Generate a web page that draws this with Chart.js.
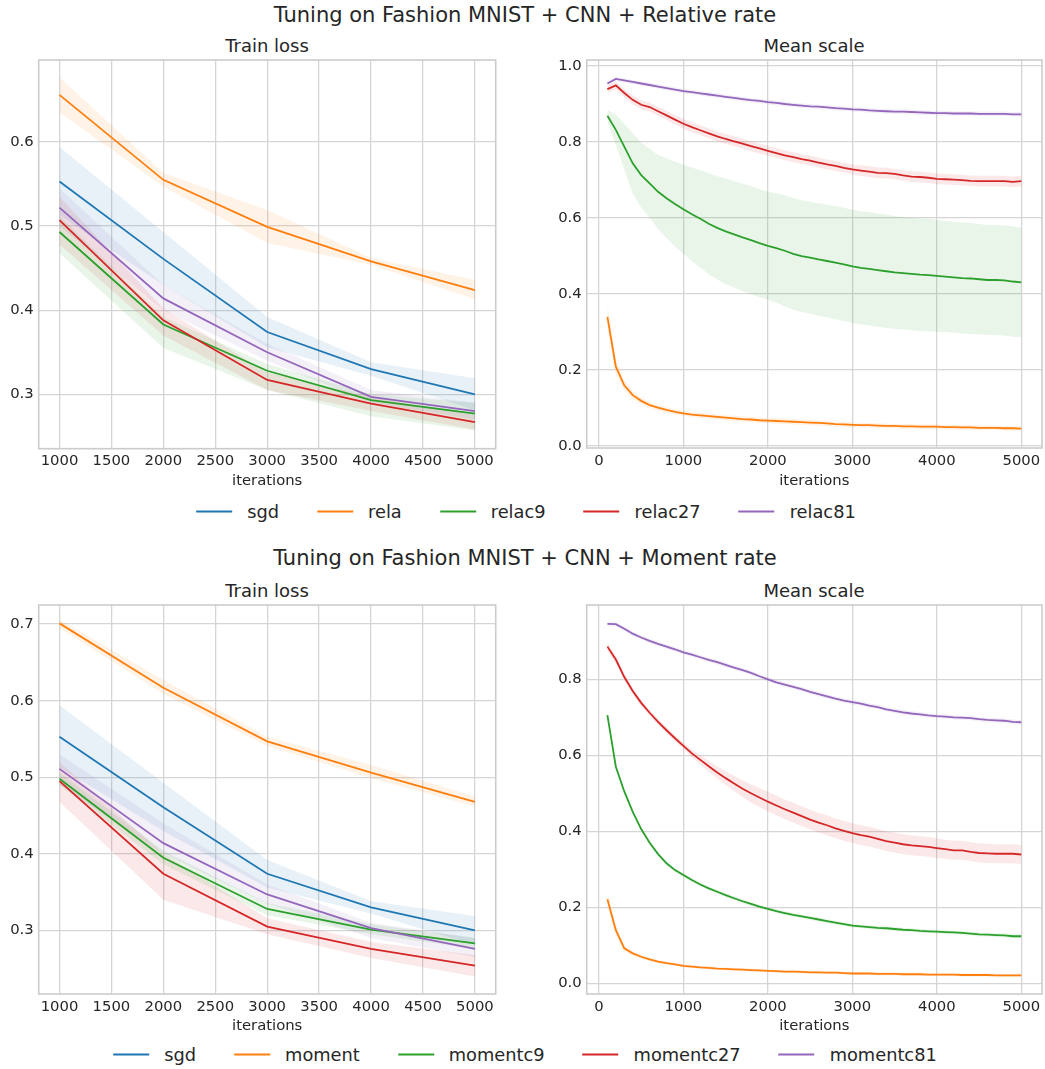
<!DOCTYPE html>
<html>
<head>
<meta charset="utf-8">
<script src="https://cdn.jsdelivr.net/npm/chart.js@4.4.0/dist/chart.umd.min.js"></script>
<style>
  body { margin: 0; background: #fff; font-family: 'DejaVu Sans', sans-serif; color: #262626; }
  #fig { position: relative; width: 1045px; height: 1069px; overflow: hidden; }
  canvas { position: absolute; }
  .txt { position: absolute; white-space: nowrap; transform: translate(-50%, -50%); }
  .sup { font-size: 21px; }
  .ttl { font-size: 18px; }
  .legend { position: absolute; display: flex; align-items: center; transform: translate(-50%, -50%); font-size: 17.8px; white-space: nowrap; }
  .legend .h { display: inline-block; width: 36px; height: 2px; margin-right: 15px; }
  .legend .t { margin-right: 38px; }
  .legend .t:last-child { margin-right: 0; }
</style>
</head>
<body>
<div id="fig">
  <div class="txt sup" style="left:525px; top:15px">Tuning on Fashion MNIST + CNN + Relative rate</div>
  <div class="txt ttl" style="left:267px; top:45px">Train loss</div>
  <div class="txt ttl" style="left:814px; top:45px">Mean scale</div>
  <canvas id="relLoss" width="520" height="440" style="left:0; top:50px"></canvas>
  <canvas id="relScale" width="505" height="440" style="left:540px; top:50px"></canvas>
  <div class="legend" id="legRel" style="left:526px; top:511px"></div>

  <div class="txt sup" style="left:525px; top:558px">Tuning on Fashion MNIST + CNN + Moment rate</div>
  <div class="txt ttl" style="left:267px; top:590px">Train loss</div>
  <div class="txt ttl" style="left:814px; top:590px">Mean scale</div>
  <canvas id="momLoss" width="520" height="440" style="left:0; top:595px"></canvas>
  <canvas id="momScale" width="505" height="440" style="left:540px; top:595px"></canvas>
  <div class="legend" id="legMom" style="left:525px; top:1054px"></div>
</div>
<script>
// ---- data ----
const colors = ['#1f77b4', '#ff7f0e', '#2ca02c', '#d62728', '#9467bd']
const relNames = ['sgd', 'rela', 'relac9', 'relac27', 'relac81']
const momNames = ['sgd', 'moment', 'momentc9', 'momentc27', 'momentc81']

const lossIters = [1000, 2000, 3000, 4000, 5000]
const lossTicksX = [1000, 1500, 2000, 2500, 3000, 3500, 4000, 4500, 5000]
const scaleTicksX = [0, 1000, 2000, 3000, 4000, 5000]
const relLossTicksY = [0.3, 0.4, 0.5, 0.6]
const momLossTicksY = [0.3, 0.4, 0.5, 0.6, 0.7]
const relScaleTicksY = [0.0, 0.2, 0.4, 0.6, 0.8, 1.0]
const momScaleTicksY = [0.0, 0.2, 0.4, 0.6, 0.8]

// train loss (mean, band low, band high)
const sgdLoss = [0.553, 0.461, 0.374, 0.330, 0.300]
const sgdLossLo = [0.513, 0.430, 0.356, 0.322, 0.281]
const sgdLossHi = [0.594, 0.493, 0.392, 0.338, 0.319]

const relaLoss = [0.656, 0.555, 0.499, 0.458, 0.424]
const relaLossLo = [0.635, 0.547, 0.480, 0.454, 0.413]
const relaLossHi = [0.677, 0.563, 0.519, 0.462, 0.436]
const relac9Loss = [0.493, 0.383, 0.328, 0.293, 0.277]
const relac9LossLo = [0.468, 0.355, 0.305, 0.274, 0.257]
const relac9LossHi = [0.512, 0.392, 0.336, 0.300, 0.290]
const relac27Loss = [0.507, 0.388, 0.317, 0.289, 0.267]
const relac27LossLo = [0.478, 0.370, 0.305, 0.280, 0.258]
const relac27LossHi = [0.535, 0.402, 0.326, 0.297, 0.275]
const relac81Loss = [0.522, 0.414, 0.350, 0.297, 0.280]
const relac81LossLo = [0.500, 0.400, 0.340, 0.290, 0.270]
const relac81LossHi = [0.545, 0.430, 0.360, 0.305, 0.290]

const momentLoss = [0.701, 0.617, 0.547, 0.506, 0.468]
const momentLossLo = [0.695, 0.609, 0.541, 0.499, 0.462]
const momentLossHi = [0.706, 0.627, 0.553, 0.516, 0.475]
const momentc9Loss = [0.498, 0.395, 0.328, 0.301, 0.283]
const momentc9LossLo = [0.490, 0.386, 0.320, 0.295, 0.276]
const momentc9LossHi = [0.506, 0.404, 0.336, 0.308, 0.290]
const momentc27Loss = [0.495, 0.374, 0.305, 0.276, 0.254]
const momentc27LossLo = [0.468, 0.340, 0.295, 0.264, 0.240]
const momentc27LossHi = [0.520, 0.400, 0.316, 0.285, 0.268]
const momentc81Loss = [0.511, 0.414, 0.347, 0.303, 0.276]
const momentc81LossLo = [0.490, 0.400, 0.335, 0.290, 0.265]
const momentc81LossHi = [0.530, 0.440, 0.360, 0.310, 0.290]

// mean scale, every 100 iterations
const scaleIters = [100, 200, 300, 400, 500, 600, 700, 800, 900, 1000,
  1100, 1200, 1300, 1400, 1500, 1600, 1700, 1800, 1900, 2000,
  2100, 2200, 2300, 2400, 2500, 2600, 2700, 2800, 2900, 3000,
  3100, 3200, 3300, 3400, 3500, 3600, 3700, 3800, 3900, 4000,
  4100, 4200, 4300, 4400, 4500, 4600, 4700, 4800, 4900, 5000]

const relaScale = [.340, .209, .160, .134, .119, .108, .101, .095, .090, .086,
  .083, .081, .079, .077, .075, .073, .071, .070, .068, .067,
  .066, .065, .064, .063, .062, .061, .060, .058, .057, .056,
  .055, .055, .054, .053, .053, .052, .052, .051, .051, .051,
  .050, .050, .049, .049, .048, .048, .048, .047, .047, .046]
const relaScaleSd = [.035, .022, .013, .010, .009, .008, .008, .008, .007, .007,
  .007, .007, .007, .007, .007, .007, .007, .007, .007, .007,
  .007, .007, .007, .007, .007, .007, .007, .007, .007, .007,
  .006, .006, .006, .006, .006, .006, .006, .006, .006, .006,
  .006, .006, .006, .006, .006, .006, .006, .006, .006, .006]
const relac9Scale = [.869, .832, .788, .744, .713, .691, .669, .652, .637, .623,
  .610, .598, .585, .574, .565, .557, .549, .542, .534, .527,
  .521, .514, .506, .500, .496, .491, .487, .483, .478, .473,
  .469, .466, .463, .460, .457, .455, .453, .451, .450, .448,
  .446, .444, .442, .441, .439, .437, .437, .436, .433, .431]
const relac9ScaleSd = [.016, .040, .060, .080, .085, .091, .097, .105, .112, .117,
  .123, .128, .133, .136, .139, .140, .141, .142, .142, .142,
  .144, .146, .147, .147, .147, .148, .148, .149, .149, .149,
  .149, .149, .149, .149, .148, .148, .148, .148, .148, .147,
  .146, .146, .146, .146, .145, .145, .145, .145, .145, .145]
const relac27Scale = [.939, .949, .929, .911, .898, .892, .881, .870, .859, .848,
  .839, .831, .823, .815, .808, .802, .796, .789, .783, .777,
  .771, .765, .760, .755, .751, .746, .741, .737, .732, .728,
  .725, .722, .719, .718, .716, .712, .709, .708, .706, .703,
  .702, .701, .700, .698, .697, .697, .697, .697, .695, .697]
const relac27ScaleSd = [.010, .010, .011, .012, .012, .012, .012, .012, .013, .013,
  .013, .013, .013, .013, .013, .013, .013, .013, .013, .013,
  .013, .013, .013, .013, .013, .013, .013, .013, .013, .013,
  .014, .014, .014, .014, .014, .014, .014, .014, .014, .014,
  .014, .014, .014, .014, .014, .014, .014, .014, .014, .014]
const relac81Scale = [.954, .966, .962, .958, .954, .950, .946, .942, .938, .934,
  .931, .928, .925, .922, .919, .916, .913, .910, .908, .905,
  .903, .900, .898, .896, .894, .893, .891, .889, .888, .886,
  .885, .883, .882, .881, .880, .880, .879, .878, .877, .876,
  .876, .875, .875, .875, .874, .874, .874, .874, .873, .873]
const relac81ScaleSd = [.006, .006, .006, .006, .006, .006, .006, .006, .006, .006,
  .006, .006, .006, .006, .006, .006, .006, .006, .006, .006,
  .006, .006, .006, .006, .006, .006, .006, .006, .006, .006,
  .006, .006, .006, .006, .006, .006, .006, .006, .006, .006,
  .006, .006, .006, .006, .006, .006, .006, .006, .006, .006]

const momentScale = [.221, .140, .092, .079, .070, .063, .057, .053, .050, .046,
  .044, .042, .041, .039, .038, .037, .036, .035, .034, .033,
  .032, .031, .031, .030, .029, .029, .028, .028, .027, .026,
  .026, .026, .025, .025, .025, .024, .024, .024, .023, .023,
  .023, .023, .022, .022, .022, .022, .021, .021, .021, .021]
const momentScaleSd = [.020, .015, .008, .006, .005, .005, .005, .004, .004, .004,
  .004, .004, .004, .004, .004, .004, .004, .004, .004, .004,
  .004, .004, .004, .004, .004, .004, .004, .004, .004, .004,
  .004, .004, .004, .004, .004, .004, .004, .004, .004, .004,
  .004, .004, .004, .004, .004, .004, .004, .004, .004, .004]
const momentc9Scale = [.706, .570, .505, .451, .406, .370, .340, .316, .298, .285,
  .272, .260, .250, .241, .232, .224, .216, .209, .202, .196,
  .190, .185, .180, .176, .172, .168, .164, .160, .156, .152,
  .150, .148, .146, .145, .143, .141, .140, .138, .137, .136,
  .135, .134, .133, .131, .129, .128, .127, .126, .124, .124]
const momentc9ScaleSd = [.006, .006, .006, .005, .005, .005, .005, .005, .005, .005,
  .005, .005, .005, .005, .005, .005, .005, .005, .005, .005,
  .005, .005, .005, .005, .005, .005, .005, .005, .005, .005,
  .005, .005, .005, .005, .005, .005, .005, .005, .005, .005,
  .005, .005, .005, .005, .005, .005, .005, .005, .005, .005]
const momentc27Scale = [.886, .852, .806, .769, .738, .712, .688, .666, .645, .625,
  .605, .588, .571, .555, .540, .526, .512, .500, .489, .478,
  .468, .458, .449, .440, .431, .423, .416, .408, .401, .395,
  .390, .386, .380, .374, .370, .366, .363, .361, .359, .356,
  .353, .350, .350, .346, .343, .342, .341, .341, .341, .339]
const momentc27ScaleSd = [.012, .010, .008, .008, .008, .008, .008, .008, .008, .008,
  .010, .012, .014, .016, .018, .020, .022, .024, .025, .026,
  .026, .026, .026, .026, .026, .026, .026, .026, .026, .026,
  .026, .026, .026, .026, .026, .026, .026, .026, .026, .026,
  .025, .025, .025, .025, .025, .025, .025, .025, .025, .025]
const momentc81Scale = [.946, .945, .933, .920, .910, .901, .893, .886, .879, .871,
  .865, .858, .851, .845, .838, .831, .824, .817, .808, .800,
  .792, .786, .780, .774, .767, .761, .755, .749, .744, .740,
  .736, .731, .727, .721, .717, .713, .710, .708, .705, .703,
  .702, .700, .699, .698, .695, .693, .692, .691, .688, .687]
const momentc81ScaleSd = [.006, .006, .006, .006, .006, .006, .006, .006, .006, .006,
  .006, .006, .006, .006, .006, .006, .006, .006, .006, .006,
  .006, .006, .006, .006, .006, .006, .006, .006, .006, .006,
  .006, .006, .006, .006, .006, .006, .006, .006, .006, .006,
  .006, .006, .006, .006, .006, .006, .006, .006, .006, .006]

// ---- drawing ----
const textColor = '#262626'
const gridColor = '#d5d5d5'

function alpha(hex, a) {
  const n = parseInt(hex.slice(1), 16)
  return `rgba(${(n >> 16) & 255},${(n >> 8) & 255},${n & 255},${a})`
}

// frame round the plot area, like matplotlib spines
const framePlugin = {
  id: 'frame',
  afterDraw(chart) {
    const { ctx, chartArea: a } = chart
    ctx.save()
    ctx.strokeStyle = '#cccccc'
    ctx.lineWidth = 1.6
    ctx.strokeRect(a.left, a.top, a.right - a.left, a.bottom - a.top)
    ctx.restore()
  }
}

function drawPanel(id, xs, series, cfg) {
  const datasets = []
  series.forEach((s, k) => {
    const pts = arr => xs.map((x, i) => ({ x: x, y: arr[i] }))
    datasets.push({ data: pts(s.lo), borderColor: 'transparent', borderWidth: 0, pointRadius: 0, fill: false, order: 100 })
    datasets.push({ data: pts(s.hi), borderColor: 'transparent', borderWidth: 0, pointRadius: 0, fill: '-1',
      backgroundColor: alpha(s.color, 0.1), order: 100 })
    datasets.push({ data: pts(s.mean), borderColor: s.color, borderWidth: 1.8, pointRadius: 0, fill: false,
      tension: 0, order: 50 - k })
  })
  const tickFont = { family: 'DejaVu Sans', size: 14.8 }
  new Chart(document.getElementById(id), {
    type: 'line',
    data: { datasets: datasets },
    plugins: [framePlugin],
    options: {
      responsive: false,
      animation: false,
      devicePixelRatio: 1,
      layout: { padding: { top: 10, left: 0, right: cfg.padRight, bottom: 0 } },
      plugins: { legend: { display: false }, tooltip: { enabled: false }, filler: { drawTime: 'beforeDatasetsDraw' } },
      scales: {
        x: {
          type: 'linear', min: cfg.xMin, max: cfg.xMax,
          afterBuildTicks: s => { s.ticks = cfg.xTicks.map(v => ({ value: v })) },
          afterFit: s => { s.height = cfg.xHeight; s.paddingLeft = 0; s.paddingRight = 0 },
          ticks: { font: tickFont, color: textColor, padding: 4, autoSkip: false, maxRotation: 0, callback: v => String(v) },
          grid: { color: gridColor, lineWidth: 1.3, drawTicks: false },
          border: { display: false },
          title: { display: true, text: 'iterations', font: tickFont, color: textColor, padding: 0 }
        },
        y: {
          type: 'linear', min: cfg.yMin, max: cfg.yMax,
          afterBuildTicks: s => { s.ticks = cfg.yTicks.map(v => ({ value: v })) },
          afterFit: s => { s.width = cfg.yWidth; s.paddingTop = 0; s.paddingBottom = 0 },
          ticks: { font: tickFont, color: textColor, padding: 5, autoSkip: false, callback: v => v.toFixed(1) },
          grid: { color: gridColor, lineWidth: 1.3, drawTicks: false },
          border: { display: false }
        }
      }
    }
  })
}

function makeLegend(id, names) {
  const el = document.getElementById(id)
  names.forEach((n, k) => {
    const h = document.createElement('span')
    h.className = 'h'
    h.style.background = colors[k]
    const t = document.createElement('span')
    t.className = 't'
    t.textContent = n
    el.appendChild(h)
    el.appendChild(t)
  })
}

const band = (mean, sd) => ({ lo: mean.map((m, i) => m - sd[i]), hi: mean.map((m, i) => m + sd[i]) })

// Relative rate
drawPanel('relLoss', lossIters, [
  { color: colors[0], mean: sgdLoss, lo: sgdLossLo, hi: sgdLossHi },
  { color: colors[1], mean: relaLoss, lo: relaLossLo, hi: relaLossHi },
  { color: colors[2], mean: relac9Loss, lo: relac9LossLo, hi: relac9LossHi },
  { color: colors[3], mean: relac27Loss, lo: relac27LossLo, hi: relac27LossHi },
  { color: colors[4], mean: relac81Loss, lo: relac81LossLo, hi: relac81LossHi }
], { xMin: 800, xMax: 5200, yMin: 0.2353, yMax: 0.6975, xTicks: lossTicksX, yTicks: relLossTicksY,
  yWidth: 38.7, xHeight: 41.3, padRight: 24.3 })

drawPanel('relScale', scaleIters, [
  Object.assign({ color: colors[1], mean: relaScale }, band(relaScale, relaScaleSd)),
  Object.assign({ color: colors[2], mean: relac9Scale }, band(relac9Scale, relac9ScaleSd)),
  Object.assign({ color: colors[3], mean: relac27Scale }, band(relac27Scale, relac27ScaleSd)),
  Object.assign({ color: colors[4], mean: relac81Scale }, band(relac81Scale, relac81ScaleSd))
], { xMin: -145, xMax: 5245, yMin: -0.005, yMax: 1.0158, xTicks: scaleTicksX, yTicks: relScaleTicksY,
  yWidth: 46.7, xHeight: 42, padRight: 3 })

// Moment rate
drawPanel('momLoss', lossIters, [
  { color: colors[0], mean: sgdLoss, lo: sgdLossLo, hi: sgdLossHi },
  { color: colors[1], mean: momentLoss, lo: momentLossLo, hi: momentLossHi },
  { color: colors[2], mean: momentc9Loss, lo: momentc9LossLo, hi: momentc9LossHi },
  { color: colors[3], mean: momentc27Loss, lo: momentc27LossLo, hi: momentc27LossHi },
  { color: colors[4], mean: momentc81Loss, lo: momentc81LossLo, hi: momentc81LossHi }
], { xMin: 800, xMax: 5200, yMin: 0.217, yMax: 0.725, xTicks: lossTicksX, yTicks: momLossTicksY,
  yWidth: 38.7, xHeight: 41, padRight: 24.3 })

drawPanel('momScale', scaleIters, [
  Object.assign({ color: colors[1], mean: momentScale }, band(momentScale, momentScaleSd)),
  Object.assign({ color: colors[2], mean: momentc9Scale }, band(momentc9Scale, momentc9ScaleSd)),
  Object.assign({ color: colors[3], mean: momentc27Scale }, band(momentc27Scale, momentc27ScaleSd)),
  Object.assign({ color: colors[4], mean: momentc81Scale }, band(momentc81Scale, momentc81ScaleSd))
], { xMin: -145, xMax: 5245, yMin: -0.028, yMax: 0.9955, xTicks: scaleTicksX, yTicks: momScaleTicksY,
  yWidth: 46.7, xHeight: 41, padRight: 3 })

makeLegend('legRel', relNames)
makeLegend('legMom', momNames)
</script>
</body>
</html>
